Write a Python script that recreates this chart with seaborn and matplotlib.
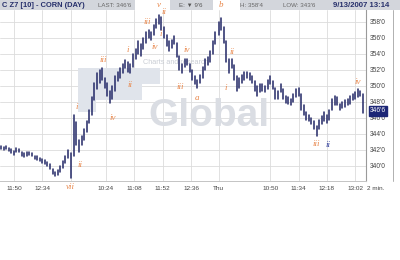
import matplotlib
matplotlib.use("Agg")
import matplotlib.pyplot as plt
import numpy as np
import pandas as pd
import seaborn as sns
from matplotlib.patches import Rectangle
from matplotlib.lines import Line2D

# ---------------- data (4-minute bars, prices in cents) ----------------
d1_lows = [342.1, 342.0, 342.1, 341.9, 341.6, 341.4, 341.8, 341.7, 341.3, 341.1,
           341.3, 341.4, 341.2, 340.9, 340.8, 340.6, 340.4, 340.2, 340.0, 339.6,
           339.0, 338.8, 338.9, 339.3, 339.8, 340.4, 341.0]
d1_highs = [342.5, 342.4, 342.5, 342.3, 342.1, 341.9, 342.3, 342.1, 341.8, 341.6,
            341.7, 341.8, 341.6, 341.3, 341.2, 341.0, 340.9, 340.7, 340.5, 340.2,
            339.6, 339.3, 339.5, 340.0, 340.6, 341.2, 342.0]

d2_lows = [338.5, 341.2, 342.6, 341.8, 342.6, 343.3, 344.2, 345.4, 346.4, 348.2,
           349.6, 350.4, 350.8, 349.8, 348.8, 347.9, 348.4, 349.4, 350.6, 351.0,
           351.6, 352.2, 351.8, 351.6, 352.4, 353.4, 354.0, 353.8, 354.6, 355.4,
           356.0, 355.8, 356.4, 357.2, 357.8, 357.0, 356.0, 355.0, 354.4, 354.8,
           355.2, 353.6, 352.0, 351.6, 352.4, 352.6, 351.8, 350.8, 350.2, 349.8,
           350.4, 351.0, 352.0, 352.6, 353.0, 354.0, 355.2]
d2_highs = [341.6, 346.4, 345.5, 343.2, 343.8, 344.6, 345.6, 347.0, 348.6, 350.4,
            351.6, 352.0, 352.2, 351.0, 350.4, 349.4, 350.0, 351.2, 351.8, 352.2,
            352.8, 353.2, 353.0, 352.8, 354.0, 354.6, 355.6, 355.2, 356.0, 356.8,
            357.0, 356.8, 357.6, 358.4, 358.9, 358.6, 357.4, 356.4, 355.6, 355.8,
            356.2, 355.4, 353.8, 352.8, 353.4, 353.4, 352.8, 352.0, 351.2, 350.8,
            351.4, 352.4, 353.4, 353.6, 354.4, 355.6, 356.8]

d3_lows = [356.4, 357.0, 355.4, 353.0, 351.6, 352.2, 350.8, 349.4, 349.8, 350.4,
           350.8, 351.0, 350.8, 350.4, 349.4, 348.8, 349.2, 349.4, 349.2, 349.6,
           350.2, 349.6, 348.4, 348.4, 349.2, 348.4, 347.9, 347.8, 347.6, 348.0,
           348.6, 348.8, 347.0, 346.4, 345.8, 345.6, 345.2, 344.6, 343.8, 344.6,
           345.2, 345.6, 345.4, 345.8, 347.0, 347.6, 347.6, 347.0, 347.2, 347.4,
           347.6, 347.8, 348.2, 348.4, 348.6, 348.8, 346.6]
d3_highs = [358.0, 358.5, 357.4, 355.6, 353.4, 353.4, 352.6, 351.2, 351.0, 351.4,
            351.8, 351.8, 351.6, 351.2, 350.6, 350.0, 350.2, 350.2, 350.0, 350.8,
            351.2, 350.6, 349.8, 349.4, 350.2, 349.6, 348.8, 348.6, 348.4, 349.0,
            349.6, 349.8, 349.0, 347.6, 346.8, 346.4, 346.0, 345.6, 345.0, 345.8,
            346.2, 346.8, 346.4, 347.0, 348.4, 348.8, 348.6, 347.8, 348.0, 348.2,
            348.4, 348.8, 349.0, 349.2, 349.6, 349.4, 349.0]

session_first_bar = ["11:30", "09:30", "09:30"]
tick_days = [0, 0, 1, 1, 1, 1, 1, 2, 2, 2, 2, 2]
tick_times = ["11:50", "12:34", "09:30", "10:24", "11:08", "11:52", "12:36",
              "09:30", "10:50", "11:34", "12:18", "13:02"]
tick_labels = ["11:50", "12:34", "", "10:24", "11:08", "11:52", "12:36",
               "Thu", "10:50", "11:34", "12:18", "13:02"]
price_ticks = [340, 342, 344, 346, 348, 350, 352, 354, 356, 358]

# Elliott-wave annotations: label, day, bar, anchor, dx px, dy px (down +), colour
wave_labels = [("vii", 1, 0, "lo", -1, 9, "o"), ("ii", 1, 3, "lo", 1, 13, "o"),
               ("i", 1, 1, "hi", 3, -8, "o"), ("iii", 1, 12, "hi", 1, -8, "o"),
               ("iv", 1, 15, "lo", 3, 15, "o"), ("ii", 1, 23, "lo", 0, 12, "o"),
               ("i", 1, 22, "hi", 0, -12, "o"), ("iii", 1, 29, "hi", 1, -10, "o"),
               ("iv", 1, 31, "lo", 4, 7, "o"), ("v", 1, 34, "hi", 0, -10, "o"),
               ("ii", 1, 35, "hi", 3, -5, "o"), ("i", 1, 35, "lo", -1, 4, "o"),
               ("iv", 1, 45, "hi", 0, -9, "o"), ("iii", 1, 43, "lo", -2, 14, "o"),
               ("a", 1, 49, "lo", 0, 10, "o"), ("b", 2, 1, "hi", 0, -13, "o"),
               ("ii", 2, 5, "hi", 0, -7, "o"), ("i", 2, 3, "lo", -1, 26, "o"),
               ("iii", 2, 38, "lo", 0, 8, "o"), ("ii", 2, 42, "lo", 1, 22, "n"),
               ("iv", 2, 54, "hi", 0, -7, "o")]

header_title = "C Z7 [10] - CORN (DAY)"
header_last = "LAST: 346'6"
header_change = "E: \u25bc 9'6"
header_high = "H: 358'4"
header_low = "LOW: 343'6"
header_stamp = "9/13/2007 13:14"
last_price = 346.75
last_label = "346'6"

# ---------------- helpers ----------------
SESSION_SPAN = 229  # displayed minutes per session incl. break
OPEN_MIN = 9 * 60 + 30
BAR_MIN = 4


def hm(s):
    h, m = s.split(":")
    return int(h) * 60 + int(m)


def tpos(day, s):
    return day * SESSION_SPAN + hm(s) - OPEN_MIN


lows_by_day = [d1_lows, d2_lows, d3_lows]
highs_by_day = [d1_highs, d2_highs, d3_highs]

rows = []
bar_t = {}
bid = 0
for d in range(3):
    t0 = tpos(d, session_first_bar[d])
    for i, (lo, hi) in enumerate(zip(lows_by_day[d], highs_by_day[d])):
        t = t0 + BAR_MIN * i
        bar_t[(d, i)] = t
        rows.append({"t": t, "price": lo, "bar": bid})
        rows.append({"t": t, "price": hi, "bar": bid})
        bid += 1
df = pd.DataFrame(rows)

# ---------------- figure ----------------
sns.set_style("white")
plt.rcParams["font.family"] = ["Liberation Sans", "DejaVu Sans"]

W, H = 400, 260
fig = plt.figure(figsize=(W / 100, H / 100), dpi=100)


def fx(px):
    return px / W


def fy(py):
    return 1 - py / H


PLOT_L, PLOT_R, PLOT_T, PLOT_B = 0, 366, 10, 181
ax = fig.add_axes([fx(PLOT_L), fy(PLOT_B), (PLOT_R - PLOT_L) / W, (PLOT_B - PLOT_T) / H])

# pixel -> data scale (0.644 px per minute, 10:24 of day 2 at px 106)
PX_PER_MIN = 0.644
anchor_t = tpos(1, "10:24")
x_lo = anchor_t - (106 - PLOT_L) / PX_PER_MIN
x_hi = anchor_t + (PLOT_R - 106) / PX_PER_MIN
ax.set_xlim(x_lo, x_hi)
ax.set_ylim(358 - (PLOT_B - 22) / 8, 358 + (22 - PLOT_T) / 8)

navy = "#2a2f6c"
sns.lineplot(data=df, x="t", y="price", units="bar", estimator=None,
             color=navy, linewidth=1.15, ax=ax, legend=False, zorder=3)

# grid / ticks
ax.set_axisbelow(True)
xt = [tpos(d, s) for d, s in zip(tick_days, tick_times)]
ax.set_xticks(xt)
ax.set_xticklabels(tick_labels)
ax.set_yticks(price_ticks)
ax.set_yticklabels([f"{p}'0" for p in price_ticks])
ax.yaxis.tick_right()
ax.grid(True, color="#dcdcdc", linewidth=0.6)
ax.tick_params(axis="x", length=0, pad=3.5, labelsize=4.6, labelcolor="#444444")
ax.tick_params(axis="y", length=0, pad=2.5, labelsize=4.8, labelcolor="#444444")
ax.set_xlabel("")
ax.set_ylabel("")
for s in ["left", "top"]:
    ax.spines[s].set_visible(False)
ax.spines["right"].set_color("#9a9a9a")
ax.spines["right"].set_linewidth(0.8)
ax.spines["bottom"].set_color("#c4c4c4")
ax.spines["bottom"].set_linewidth(0.7)

# watermark (MF Global)
wm = "#e0e4eb"
for (x0, y0, x1, y1) in [(78, 68, 160, 84), (78, 84, 142, 100), (78, 100, 96, 112)]:
    ax.add_patch(Rectangle((fx(x0), fy(y1)), (x1 - x0) / W, (y1 - y0) / H,
                           transform=fig.transFigure, facecolor=wm,
                           edgecolor="none", zorder=0.7))
ax.text(fx(148), fy(116), "Global", transform=fig.transFigure, fontsize=28,
        fontweight="bold", color="#dadde3", ha="left", va="center", zorder=0.7)
ax.text(fx(143), fy(62), "Charts and research", transform=fig.transFigure,
        fontsize=5.2, color="#c9cdd4", ha="left", va="center", zorder=0.7)

# wave annotations
orange = "#e8864a"
for lab, d, i, anc, dx, dy, c in wave_labels:
    d_lo = lows_by_day[d][i]
    d_hi = highs_by_day[d][i]
    yv = d_hi if anc == "hi" else d_lo
    ax.annotate(lab, xy=(bar_t[(d, i)], yv), xytext=(dx, -dy),
                textcoords="offset pixels", ha="center", va="center",
                fontsize=6.5, fontstyle="italic", family="Liberation Serif",
                color=orange if c == "o" else "#2c3a9a",
                annotation_clip=False, zorder=5)

# last price box
ax.annotate(last_label, xy=(1.0, last_price), xycoords=("axes fraction", "data"),
            xytext=(4, 1), textcoords="offset pixels", ha="left", va="center",
            fontsize=4.8, color="white", annotation_clip=False, zorder=6,
            bbox=dict(boxstyle="square,pad=0.2", facecolor="#1c2676", edgecolor="#1c2676"))

# right border of label strip
fig.add_artist(Line2D([fx(393), fx(393)], [fy(PLOT_B), fy(PLOT_T)],
                      transform=fig.transFigure, color="#b0b0b0", linewidth=0.7))

# "2 min." label
fig.text(fx(367), fy(188), "2 min.", fontsize=4.6, color="#444444",
         ha="left", va="center")

# header bar segments
hdr = "#d3d6dc"
for x0, x1 in [(0, 135), (170, 213), (240, 400)]:
    fig.add_artist(Rectangle((fx(x0), fy(10)), (x1 - x0) / W, 10 / H,
                             transform=fig.transFigure, facecolor=hdr,
                             edgecolor="none"))
fig.text(fx(2), fy(5.2), header_title, fontsize=5.4, fontweight="bold",
         color="#27306b", ha="left", va="center")
fig.text(fx(98), fy(5.2), header_last, fontsize=4.4, color="#666666",
         ha="left", va="center")
fig.text(fx(179), fy(5.2), header_change, fontsize=4.4, color="#555555",
         ha="left", va="center")
fig.text(fx(240), fy(5.2), header_high, fontsize=4.4, color="#666666",
         ha="left", va="center")
fig.text(fx(283), fy(5.2), header_low, fontsize=4.4, color="#666666",
         ha="left", va="center")
fig.text(fx(333), fy(5.2), header_stamp, fontsize=5.6, fontweight="bold",
         color="#27306b", ha="left", va="center")

fig.savefig("out.png", dpi=100)
